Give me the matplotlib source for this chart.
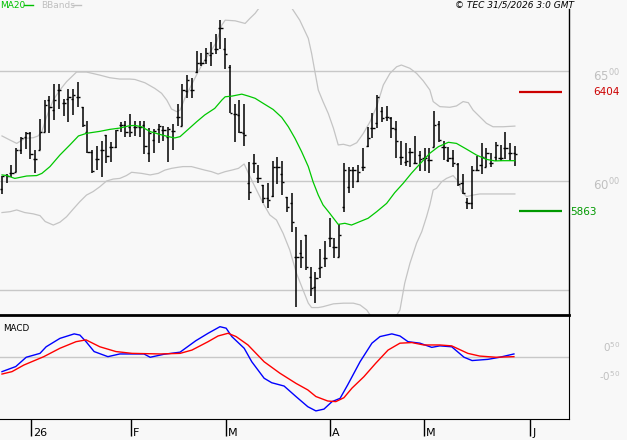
import numpy as np
import matplotlib.pyplot as plt
from matplotlib.lines import Line2D
from matplotlib.transforms import blended_transform_factory

# daily bars, late Dec 2025 .. end of May 2026
opens = [5961, 6027, 6037, 6039, 6141, 6199, 6217, 6098, 6141, 6225,
         6369, 6323, 6415, 6354, 6372, 6374, 6381, 6339, 6225, 6133,
         6098, 6141, 6208, 6156, 6156, 6255, 6255, 6247, 6247, 6247,
         6255, 6126, 6186, 6235, 6232, 6202, 6229, 6290, 6250, 6412,
         6415, 6497, 6537, 6552, 6575, 6600, 6696, 6600, 6521, 6305,
         6301, 6220, 5989, 6080, 6011, 5981, 5920, 5931, 6065, 6030,
         5928, 5897, 5654, 5669, 5751, 5562, 5517, 5600, 5646, 5741,
         5699, 5651, 5882, 5973, 6049, 5999, 6065, 6159, 6240, 6263,
         6320, 6293, 6285, 6235, 6107, 6088, 6130, 6080, 6118, 6103,
         6095, 6156, 6258, 6153, 6095, 6103, 6077, 5989, 5905, 5897,
         6049, 6071, 6065, 6083, 6110, 6103, 6151, 6126, 6126]
highs = [6024, 6030, 6072, 6148, 6200, 6221, 6221, 6141, 6282, 6369,
         6387, 6444, 6442, 6372, 6418, 6419, 6450, 6339, 6273, 6141,
         6159, 6180, 6208, 6179, 6232, 6267, 6273, 6304, 6272, 6272,
         6273, 6240, 6238, 6258, 6250, 6247, 6260, 6349, 6441, 6482,
         6470, 6591, 6582, 6608, 6632, 6670, 6737, 6651, 6529, 6349,
         6369, 6351, 6088, 6123, 6072, 5981, 5989, 6091, 6110, 6091,
         5928, 5946, 5791, 5730, 5753, 5608, 5585, 5687, 5725, 5829,
         5741, 5803, 6080, 6065, 6065, 6072, 6151, 6244, 6308, 6392,
         6339, 6342, 6290, 6273, 6182, 6171, 6151, 6206, 6138, 6151,
         6151, 6319, 6273, 6182, 6156, 6141, 6080, 6031, 5923, 6069,
         6115, 6171, 6148, 6129, 6179, 6164, 6221, 6171, 6159]
lows = [5938, 5989, 6019, 6039, 6121, 6147, 6098, 6037, 6141, 6223,
        6220, 6278, 6328, 6296, 6270, 6301, 6339, 6247, 6129, 6034,
        6049, 6019, 6080, 6084, 6148, 6221, 6199, 6199, 6205, 6202,
        6121, 6088, 6129, 6174, 6182, 6088, 6141, 6250, 6250, 6380,
        6380, 6494, 6524, 6532, 6526, 6579, 6600, 6509, 6308, 6179,
        6217, 6159, 5913, 6034, 5989, 5897, 5878, 5928, 5986, 5935,
        5859, 5768, 5425, 5600, 5593, 5474, 5441, 5558, 5608, 5699,
        5646, 5651, 5859, 5946, 5969, 5996, 6046, 6156, 6197, 6240,
        6270, 6275, 6197, 6106, 6072, 6069, 6062, 6075, 6046, 6046,
        6037, 6153, 6179, 6095, 6088, 6065, 5976, 5938, 5870, 5870,
        6045, 6030, 6062, 6065, 6092, 6092, 6101, 6092, 6068]
closes = [6022, 6024, 6037, 6141, 6197, 6217, 6123, 6098, 6225, 6346,
          6336, 6369, 6415, 6354, 6381, 6392, 6381, 6255, 6133, 6046,
          6098, 6141, 6115, 6156, 6232, 6255, 6221, 6225, 6247, 6247,
          6159, 6217, 6229, 6250, 6232, 6235, 6229, 6290, 6415, 6460,
          6415, 6537, 6537, 6582, 6582, 6600, 6696, 6579, 6308, 6305,
          6225, 6209, 5951, 6080, 6011, 5920, 5913, 6065, 6065, 5996,
          5882, 5814, 5651, 5651, 5608, 5509, 5558, 5608, 5646, 5741,
          5699, 5751, 6049, 6049, 6049, 6042, 6065, 6194, 6240, 6381,
          6285, 6293, 6240, 6182, 6107, 6091, 6130, 6080, 6098, 6103,
          6095, 6255, 6186, 6153, 6103, 6083, 5986, 5943, 5897, 6049,
          6049, 6110, 6126, 6083, 6164, 6103, 6151, 6126, 6123]

# indicator lines, read at bar positions (index, value)
ma20 = [(0, 6027), (1, 6024), (2.7, 6011), (5.2, 6022), (7.3, 6024), (8.4, 6034),
        (10.1, 6065), (12.2, 6118), (14.3, 6164), (16.1, 6205), (17.8, 6217),
        (20.6, 6226), (22.7, 6235), (24.8, 6241), (26.9, 6252), (28, 6253),
        (29.4, 6247), (31.2, 6225), (32.9, 6214), (35, 6202), (36.4, 6196),
        (37.5, 6202), (39.2, 6235), (41, 6270), (42.7, 6301), (44.8, 6331),
        (46.3, 6369), (47, 6384), (48.4, 6387), (50.5, 6396), (51.9, 6387),
        (53.3, 6377), (55, 6354), (57.1, 6326), (58.9, 6290), (60.3, 6247),
        (61.7, 6194), (63.1, 6133), (64.5, 6065), (65.5, 5996), (66.6, 5935),
        (67.6, 5890), (69, 5852), (70.8, 5801), (72.2, 5806), (73.6, 5798),
        (75.4, 5814), (77.1, 5829), (78.9, 5859), (81, 5897), (82.7, 5946),
        (84.5, 5989), (86.2, 6034), (88, 6077), (90.1, 6126), (91.9, 6156),
        (94, 6176), (95.7, 6171), (97.8, 6145), (99.9, 6118), (102, 6098),
        (103.8, 6091), (105.5, 6092), (108, 6092)]
bb_upper = [(0, 6205), (1.7, 6186), (3.1, 6171), (4.8, 6194), (6.6, 6197), (7.6, 6205),
            (8.4, 6225), (9.4, 6293), (10.8, 6369), (12.2, 6415), (13.6, 6453),
            (14.7, 6476), (15.7, 6497), (17.8, 6497), (20.6, 6483), (22.7, 6471),
            (24.8, 6465), (26.9, 6465), (28, 6463), (30.1, 6448), (32.2, 6422),
            (33.6, 6400), (34.7, 6369), (35.7, 6328), (36.8, 6316), (37.5, 6323),
            (38.5, 6377), (39.9, 6438), (41.3, 6498), (42.7, 6552), (44.1, 6597),
            (45.2, 6635), (46.3, 6712), (47, 6734), (49.1, 6731), (51.2, 6719),
            (52.2, 6742), (53.3, 6765), (55, 6815), (57, 6840), (59, 6830),
            (61, 6790), (62.7, 6734), (64.5, 6651), (65.2, 6582), (65.9, 6498),
            (66.6, 6415), (67.6, 6362), (68.7, 6308), (69.8, 6240), (70.8, 6164),
            (71.9, 6167), (73.3, 6159), (74.7, 6174), (76.1, 6217), (77.5, 6270),
            (78.9, 6339), (80.3, 6438), (81.7, 6491), (83.1, 6521), (84.1, 6529),
            (85.9, 6514), (87.3, 6491), (88.7, 6457), (90.1, 6415), (90.8, 6362),
            (92.2, 6339), (94.3, 6336), (95.7, 6342), (97.1, 6362), (98.2, 6357),
            (99.2, 6323), (100.6, 6293), (102, 6263), (103.4, 6247), (105.5, 6247),
            (108, 6250)]
bb_lower = [(0, 5855), (1.7, 5859), (3.1, 5867), (4.8, 5855), (6.6, 5849), (8, 5841),
            (9.1, 5814), (10.8, 5798), (12.2, 5811), (13.6, 5836), (15, 5871),
            (16.4, 5905), (17.8, 5935), (19.2, 5951), (20.6, 5973), (22, 5999),
            (23.4, 6008), (24.8, 6011), (26.2, 6024), (27.3, 6039), (29.4, 6034),
            (31.2, 6027), (32.9, 6034), (34.3, 6049), (35.7, 6057), (37.1, 6062),
            (38.1, 6065), (39.9, 6065), (41.3, 6057), (42.7, 6049), (44.1, 6042),
            (45.5, 6031), (47, 6042), (48.4, 6049), (49.8, 6057), (51, 6077),
            (51.9, 6034), (52.9, 5989), (53.6, 5958), (55, 5897), (56.4, 5844),
            (57.8, 5821), (59.2, 5760), (60.6, 5684), (62, 5578), (63.4, 5501),
            (64.5, 5441), (65.2, 5421), (66.6, 5421), (67.6, 5425), (69.8, 5438),
            (71.9, 5441), (74, 5441), (75.4, 5433), (76.8, 5410), (79, 5340),
            (81.5, 5330), (83.8, 5410), (84.8, 5532), (85.9, 5623), (87.3, 5715),
            (88.4, 5768), (89.4, 5836), (90.1, 5890), (90.8, 5958), (91.5, 5966),
            (92.6, 5996), (93.6, 6011), (95, 6024), (96.1, 5996), (96.8, 5951),
            (97.8, 5928), (99.2, 5935), (100.6, 5940), (103.4, 5940), (108, 5940)]
macd = [(0, -0.49), (2.9, -0.32), (5.1, -0.01), (8, 0.12), (9.3, 0.34), (12.2, 0.62),
        (15.2, 0.77), (16.4, 0.73), (17.7, 0.51), (19.4, 0.18), (22.3, 0.01),
        (24.8, 0.10), (29.9, 0.10), (31.2, -0.01), (34.1, 0.09), (37.5, 0.16),
        (40.8, 0.54), (43.4, 0.79), (45.9, 1.01), (47.2, 0.96), (48.4, 0.68),
        (51, 0.29), (52.6, -0.16), (55.2, -0.71), (56.8, -0.86), (59.4, -0.97),
        (61.9, -1.32), (64.4, -1.66), (66.1, -1.80), (67.8, -1.74), (69.5, -1.49),
        (71.2, -1.38), (72.8, -0.93), (75.4, -0.16), (77.9, 0.46), (79.6, 0.68),
        (82.1, 0.77), (83.8, 0.70), (85.5, 0.51), (88, 0.46), (90.5, 0.32),
        (92.2, 0.37), (94.7, 0.34), (97.3, -0.01), (99, -0.12), (102.3, -0.08),
        (104.8, -0.01), (107.8, 0.10)]
signal = [(0, -0.57), (2.1, -0.49), (4.6, -0.27), (8.8, 0.01), (12.2, 0.29),
          (15.6, 0.51), (17.7, 0.57), (20.6, 0.34), (24, 0.18), (27.4, 0.12),
          (33.3, 0.10), (37.5, 0.12), (40, 0.23), (43.4, 0.51), (45.5, 0.70),
          (47.6, 0.79), (49.3, 0.68), (51.8, 0.40), (55.2, -0.16), (58.5, -0.54),
          (61.9, -0.88), (64.4, -1.10), (66.1, -1.32), (68.6, -1.47), (70.3, -1.49),
          (72, -1.36), (73.7, -1.04), (76.2, -0.66), (78.7, -0.21), (81.3, 0.23),
          (83.8, 0.46), (86.3, 0.48), (88.8, 0.40), (92.2, 0.40), (94.7, 0.37),
          (98.1, 0.12), (100.6, 0.03), (104, -0.01), (107.8, 0.01)]

month_pos = [6.1, 27.2, 47.2, 69.1, 88.8, 111.2]
month_labels = ['26', 'F', 'M', 'A', 'M', 'J']
resist, support = 6404, 5863

BG = '#f8f8f8'
GRID = '#c8c8c8'
W, H = 627, 440

fig = plt.figure(figsize=(W / 100, H / 100), dpi=100, facecolor=BG)
ax = fig.add_axes([0, (H - 315) / H, 569 / W, (315 - 9) / H], facecolor=BG)
axm = fig.add_axes([0, (H - 419) / H, 569 / W, (419 - 315) / H], facecolor=BG)

x = np.arange(len(closes))
xl = (-0.42, 119.4)

# price panel
for g in [5500, 6000, 6500]:
    ax.axhline(g, color=GRID, lw=1, zorder=0)
ax.plot(*zip(*bb_upper), color='#c4c4c4', lw=0.9, zorder=1)
ax.plot(*zip(*bb_lower), color='#c4c4c4', lw=0.9, zorder=1)
ax.plot(*zip(*ma20), color='#00c800', lw=0.9, zorder=3)
ax.vlines(x, lows, highs, color='black', lw=1.1, zorder=2)
ax.hlines(opens, x - 0.45, x, color='black', lw=1, zorder=2)
ax.hlines(closes, x, x + 0.45, color='black', lw=1, zorder=2)
ax.hlines(resist, 108.8, 117.9, color='#cc0000', lw=1.6)
ax.hlines(support, 108.8, 117.9, color='#009900', lw=1.6)
ax.set_xlim(*xl)
ax.set_ylim(5387, 6785)
ax.set_xticks([])
ax.set_yticks([])
for s in ['top', 'left', 'bottom']:
    ax.spines[s].set_visible(False)
ax.spines['right'].set_linewidth(1)

ty = ax.get_yaxis_transform()
for g, big, small in [(6500, '65', '00'), (6000, '60', '00')]:
    ax.text(620 / 569, g - 20, r'$\mathregular{%s^{%s}}$' % (big, small),
            transform=ty, ha='right', va='center', color='#c0c0c0', fontsize=8.5)
ax.text(593 / 569, resist, str(resist), transform=ty, ha='left', va='center',
        color='#cc0000', fontsize=7.5)
ax.text(570 / 569, support - 4, str(support), transform=ty, ha='left', va='center',
        color='#009900', fontsize=7.5)

# MACD panel
axm.axhline(0, color=GRID, lw=1, zorder=0)
axm.plot(*zip(*macd), color='#0000ff', lw=1)
axm.plot(*zip(*signal), color='#ff0000', lw=1)
axm.set_xlim(*xl)
axm.set_ylim(-2.07, 1.4)
axm.set_yticks([])
axm.spines['left'].set_visible(False)
axm.spines['top'].set_linewidth(2)
axm.set_xticks(month_pos)
axm.tick_params(axis='x', direction='out', length=12, width=1, labelbottom=False)
tx = blended_transform_factory(axm.transData, axm.transAxes)
for p, lab in zip(month_pos, month_labels):
    axm.text(p + 0.45, -0.13, lab, transform=tx, ha='left', va='center', fontsize=8)
tm = axm.get_yaxis_transform()
axm.text(620 / 569, 0.32, r'$\mathregular{0^{50}}$', transform=tm, ha='right',
         va='center', color='#c0c0c0', fontsize=7.5)
axm.text(620 / 569, -0.64, r'-$\mathregular{0^{50}}$', transform=tm, ha='right',
         va='center', color='#c0c0c0', fontsize=7.5)
axm.text(3 / 569, 0.87, 'MACD', transform=axm.transAxes, ha='left', va='center', fontsize=6.3)

# header
yh = 1 - 5.5 / H
fig.text(0.5 / W, yh, 'MA20', color='#00c000', fontsize=6.5, va='center')
fig.add_artist(Line2D([24 / W, 33 / W], [yh, yh], color='#00c000', lw=1))
fig.text(41 / W, yh, 'BBands', color='#c0c0c0', fontsize=6.5, va='center')
fig.add_artist(Line2D([72 / W, 81 / W], [yh, yh], color='#c0c0c0', lw=1))
fig.text(574 / W, yh, '\u00a9 TEC 31/5/2026 3:0 GMT', ha='right', va='center',
         fontsize=6.5, style='italic')

fig.savefig('out.png', dpi=100, facecolor=BG)
